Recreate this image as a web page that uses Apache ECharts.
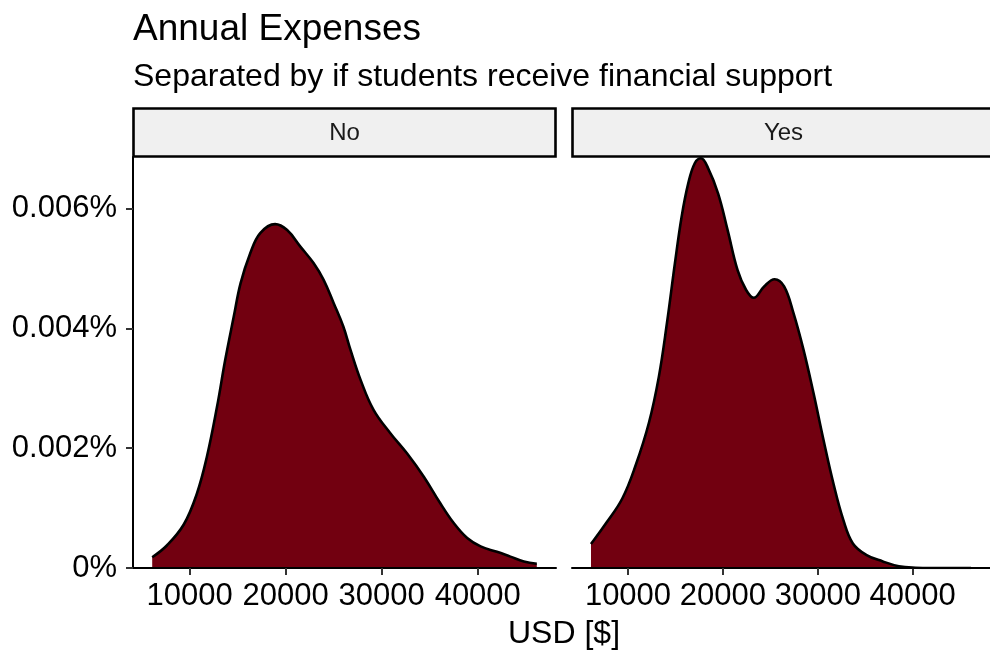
<!DOCTYPE html>
<html>
<head>
<meta charset="utf-8">
<script src="https://cdn.jsdelivr.net/npm/echarts@6/dist/echarts.min.js"></script>
<style>
  html, body { margin: 0; padding: 0; background: #ffffff; }
  #chart { width: 990px; height: 654px; }
</style>
</head>
<body>
<div id="chart"></div>
<script>
// Density of annual expenses (USD), one panel per financial-support group.
const panels = ['No', 'Yes'];

const noX = [6100, 7650, 9400, 10750, 11800, 12850, 13700, 14600, 15300, 16300, 17350, 18900, 20150, 21550, 22900, 23950, 25000, 26000, 26750, 27800, 29150, 30900, 32650, 34400, 36100, 37500, 38900, 40300, 42000, 43400, 44800, 46150];
const noY = [0.00018, 0.00038, 0.00073, 0.00124, 0.00186, 0.00269, 0.00347, 0.00420, 0.00475, 0.00525, 0.00559, 0.00574, 0.00564, 0.00536, 0.00509, 0.00481, 0.00442, 0.00403, 0.00364, 0.00314, 0.00264, 0.00225, 0.00191, 0.00152, 0.00108, 0.00075, 0.00050, 0.00036, 0.00027, 0.00019, 0.00011, 0.00007];

const yesX = [6100, 7700, 9400, 10800, 12200, 13250, 14100, 14950, 15650, 16350, 17050, 17700, 18450, 19500, 20500, 21550, 22450, 23250, 24350, 25450, 26450, 27450, 28500, 29550, 30600, 31650, 32700, 33700, 35100, 36850, 38550, 40300, 42000, 44000, 46150];
const yesY = [0.00040, 0.00075, 0.00116, 0.00171, 0.00242, 0.00319, 0.00408, 0.00509, 0.00586, 0.00642, 0.00676, 0.00684, 0.00667, 0.00625, 0.00564, 0.00497, 0.00464, 0.00451, 0.00470, 0.00482, 0.00470, 0.00425, 0.00364, 0.00292, 0.00214, 0.00141, 0.00080, 0.00041, 0.00022, 0.00011, 0.00003, 0.000005, 0, 0, 0];

const xTicks = [10000, 20000, 30000, 40000];
const yTicks = [0, 0.002, 0.004, 0.006];
const xMin = 4100, xMax = 48150;
const yMax = 0.00686;

const FONT = '"Liberation Sans", Arial, Helvetica, sans-serif';
const FILL = '#720010';

const pairs = (xs, ys) => xs.map((x, i) => [x, ys[i]]);
const yFmt = v => (Math.abs(v) < 1e-12 ? '0' : v.toFixed(3)) + '%';
const xFmt = v => String(Math.round(v));

const grids = [
  { left: 133, top: 157, width: 423, height: 411 },
  { left: 572, top: 157, width: 423, height: 411 }
];

function xAxisFor(i) {
  return {
    type: 'value', gridIndex: i, min: xMin, max: xMax, z: 3,
    splitLine: { show: false },
    axisLine: { show: true, onZero: false, lineStyle: { color: '#000', width: 2 } },
    axisTick: { show: true, customValues: xTicks, length: 7, lineStyle: { color: '#333', width: 2 } },
    axisLabel: { customValues: xTicks, formatter: xFmt, margin: 13, color: '#000', fontSize: 31, fontFamily: FONT }
  };
}

function yAxisFor(i) {
  const first = i === 0;
  return {
    type: 'value', gridIndex: i, min: 0, max: yMax, z: 3,
    splitLine: { show: false },
    axisLine: { show: first, lineStyle: { color: '#000', width: 2 } },
    axisTick: { show: first, customValues: yTicks, length: 7, lineStyle: { color: '#333', width: 2 } },
    axisLabel: { show: first, customValues: yTicks, formatter: yFmt, margin: 16, color: '#000', fontSize: 31, fontFamily: FONT }
  };
}

function densitySeries(i, xs, ys) {
  return {
    type: 'line', xAxisIndex: i, yAxisIndex: i,
    data: pairs(xs, ys),
    showSymbol: false, symbol: 'none', smooth: 0.4,
    lineStyle: { color: '#000', width: 2.6, join: 'round' },
    areaStyle: { color: FILL, opacity: 1 },
    silent: true, animation: false
  };
}

function strip(i, label) {
  const g = grids[i];
  return [
    { type: 'rect', shape: { x: g.left + 0.5, y: 108.5, width: 422, height: 48 },
      style: { fill: '#F0F0F0', stroke: '#000', lineWidth: 2.6 }, z: 10 },
    { type: 'text', x: g.left + 211.5, y: 133,
      style: { text: label, font: '24px ' + FONT, fill: '#1a1a1a', textAlign: 'center', textVerticalAlign: 'middle' }, z: 11 }
  ];
}

const chart = echarts.init(document.getElementById('chart'), null, { renderer: 'canvas' });
chart.setOption({
  backgroundColor: '#ffffff',
  animation: false,
  grid: grids,
  xAxis: [xAxisFor(0), xAxisFor(1)],
  yAxis: [yAxisFor(0), yAxisFor(1)],
  series: [densitySeries(0, noX, noY), densitySeries(1, yesX, yesY)],
  graphic: [
    { type: 'text', x: 133, y: 30,
      style: { text: 'Annual Expenses', font: '37px ' + FONT, fill: '#000', textAlign: 'left', textVerticalAlign: 'middle' } },
    { type: 'text', x: 133, y: 77,
      style: { text: 'Separated by if students receive financial support', font: '32px ' + FONT, fill: '#000', textAlign: 'left', textVerticalAlign: 'middle' } },
    ...strip(0, panels[0]),
    ...strip(1, panels[1]),
    { type: 'text', x: 564, y: 634,
      style: { text: 'USD [$]', font: '32px ' + FONT, fill: '#000', textAlign: 'center', textVerticalAlign: 'middle' } }
  ]
});
</script>
</body>
</html>
